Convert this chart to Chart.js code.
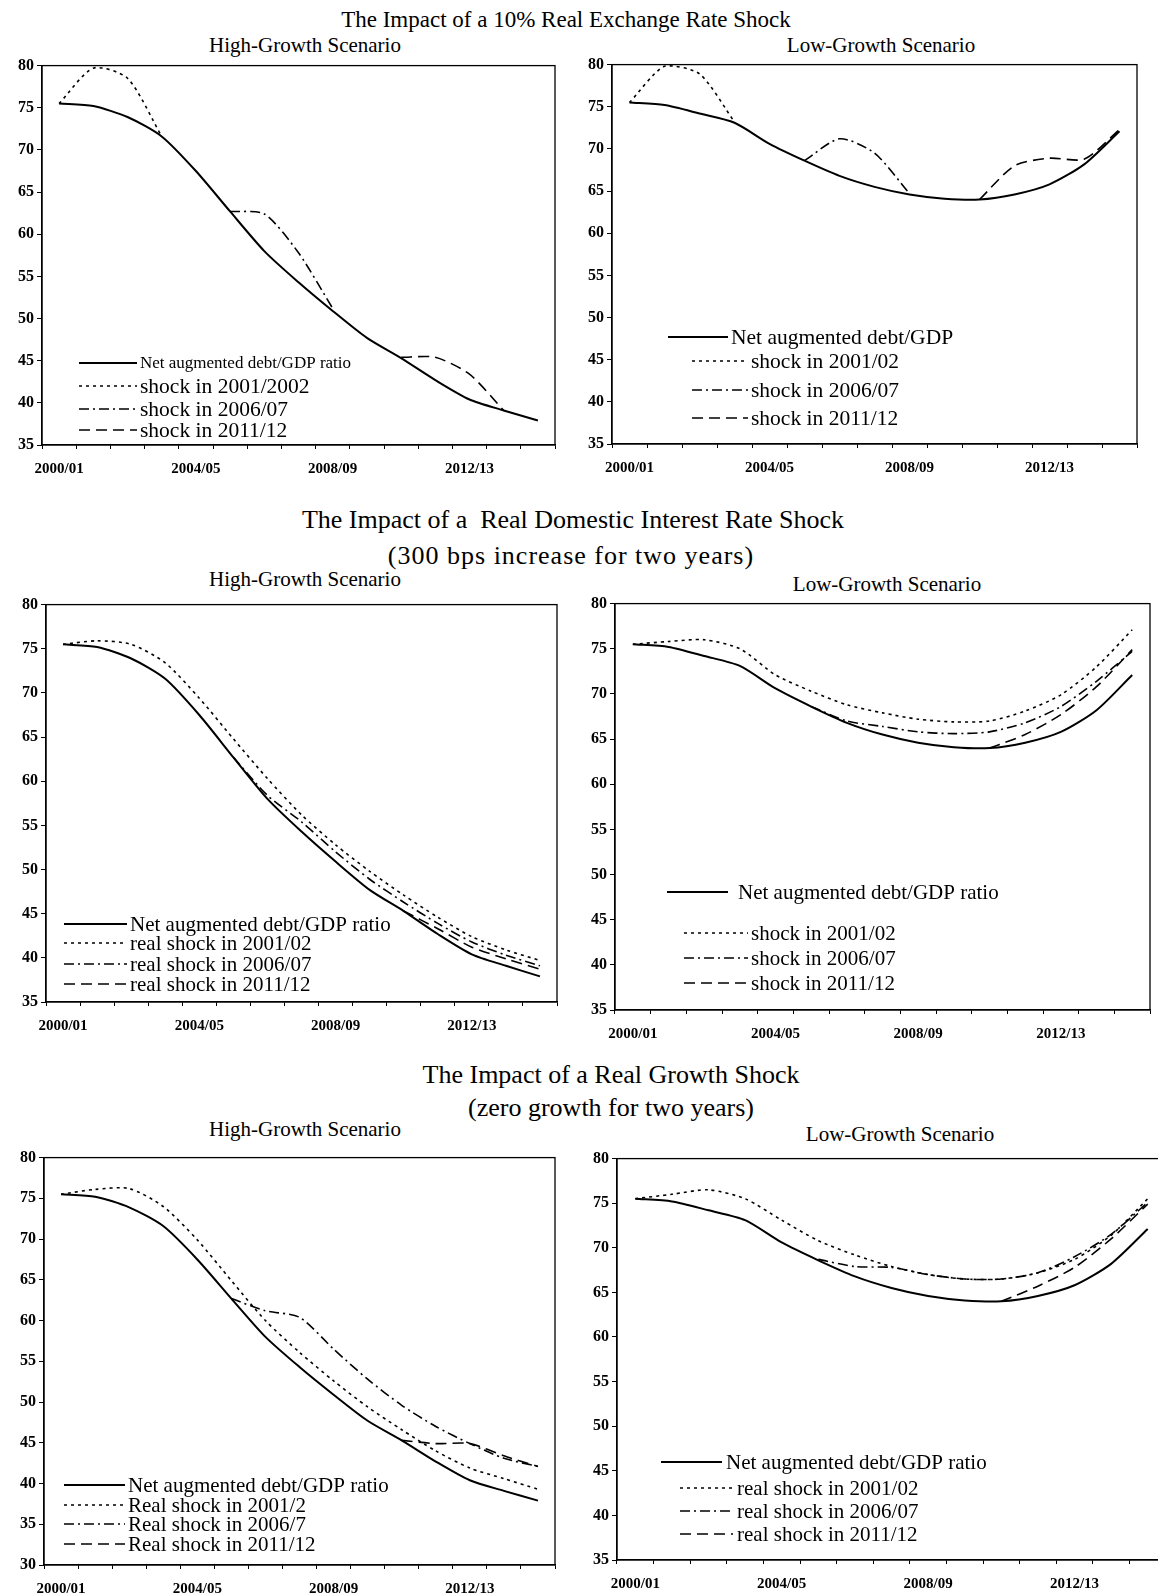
<!DOCTYPE html>
<html>
<head>
<meta charset="utf-8">
<script src="https://cdn.jsdelivr.net/npm/chart.js@4.4.1/dist/chart.umd.min.js"></script>
<style>
  html, body { margin: 0; padding: 0; background: #fff; overflow: hidden; }
  body { width: 1158px; height: 1595px; position: relative; font-family: "Liberation Serif", "Times New Roman", serif; color: #000; }
  .t { position: absolute; transform: translateX(-50%); white-space: pre; line-height: 1; }
  canvas { position: absolute; }
</style>
</head>
<body>

<div class="t" style="left:566px; top:8px; font-size:23px;">The Impact of a 10% Real Exchange Rate Shock</div>
<div class="t" style="left:305px; top:35px; font-size:21px;">High-Growth Scenario</div>
<div class="t" style="left:881px; top:35px; font-size:21px;">Low-Growth Scenario</div>

<div class="t" style="left:573px; top:507px; font-size:26px;">The Impact of a  Real Domestic Interest Rate Shock</div>
<div class="t" style="left:571px; top:543px; font-size:26px; letter-spacing:1px;">(300 bps increase for two years)</div>
<div class="t" style="left:305px; top:569px; font-size:21px;">High-Growth Scenario</div>
<div class="t" style="left:887px; top:574px; font-size:21px;">Low-Growth Scenario</div>

<div class="t" style="left:611px; top:1062px; font-size:26px;">The Impact of a Real Growth Shock</div>
<div class="t" style="left:611px; top:1095px; font-size:26px;">(zero growth for two years)</div>
<div class="t" style="left:305px; top:1119px; font-size:21px;">High-Growth Scenario</div>
<div class="t" style="left:900px; top:1124px; font-size:21px;">Low-Growth Scenario</div>

<canvas id="c1"></canvas>
<canvas id="c2"></canvas>
<canvas id="c3"></canvas>
<canvas id="c4"></canvas>
<canvas id="c5"></canvas>
<canvas id="c6"></canvas>

<script>
// fiscal years on the x axis
const years = ['2000/01', '2001/02', '2002/03', '2003/04', '2004/05', '2005/06', '2006/07', '2007/08',
               '2008/09', '2009/10', '2010/11', '2011/12', '2012/13', '2013/14', '2014/15'];
const _ = null;

// baseline net augmented debt/GDP
const highBase = [75.5, 75.2, 73.9, 71.6, 67.5, 62.7, 58.0, 54.3, 50.9, 47.7, 45.3, 42.7, 40.4, 39.1, 37.9];
const lowBase  = [75.5, 75.2, 74.2, 73.1, 70.6, 68.6, 66.8, 65.5, 64.6, 64.1, 64.0, 64.6, 65.8, 68.2, 72.1];

// 10% real exchange rate shock
const fxHigh01 = [75.5, 79.7, 78.5, 71.6, _, _, _, _, _, _, _, _, _, _, _];
const fxHigh06 = [_, _, _, _, _, 62.7, 62.4, 57.8, 51.2, _, _, _, _, _, _];
const fxHigh11 = [_, _, _, _, _, _, _, _, _, _, 45.4, 45.4, 43.4, 39.1, _];
const fxLow01  = [75.5, 79.8, 78.9, 73.2, _, _, _, _, _, _, _, _, _, _, _];
const fxLow06  = [_, _, _, _, _, 68.6, 71.2, 69.5, 64.7, _, _, _, _, _, _];
const fxLow11  = [_, _, _, _, _, _, _, _, _, _, 64.0, 68.0, 68.9, 68.8, 72.3];

// real domestic interest rate shock
const irHigh01 = [75.5, 75.9, 75.5, 73.4, 69.4, 64.8, 60.3, 56.2, 52.8, 49.8, 47.1, 44.6, 42.4, 40.9, 39.7];
const irHigh06 = [_, _, _, _, _, 62.7, 58.4, 55.4, 52.0, 48.9, 46.3, 43.9, 41.8, 40.3, 39.1];
const irHigh11 = [_, _, _, _, _, _, _, _, _, _, 45.3, 43.3, 41.2, 39.9, 38.7];
const irLow01  = [75.5, 75.8, 76.0, 75.0, 72.1, 70.3, 68.8, 67.9, 67.2, 66.9, 67.0, 68.1, 69.9, 73.0, 77.1];
const irLow06  = [_, _, _, _, _, 68.6, 67.0, 66.4, 65.8, 65.6, 65.8, 66.8, 68.6, 71.4, 74.7];
const irLow11  = [_, _, _, _, _, _, _, _, _, _, 64.0, 65.5, 67.7, 70.8, 74.9];

// real growth shock
const grHigh01 = [75.5, 76.1, 76.2, 74.0, 69.9, 64.9, 60.0, 56.1, 52.6, 49.4, 46.6, 44.0, 41.9, 40.6, 39.3];
const grHigh06 = [_, _, _, _, _, 62.7, 61.2, 60.4, 56.5, 52.8, 49.6, 47.0, 44.9, 43.1, 42.1];
const grHigh11 = [_, _, _, _, _, _, _, _, _, _, 45.3, 44.9, 44.9, 43.4, 42.1];
const grLow01  = [75.5, 76.0, 76.5, 75.5, 73.1, 70.8, 69.2, 67.9, 67.0, 66.5, 66.5, 67.2, 68.7, 71.4, 75.5];
const grLow06  = [_, _, _, _, _, 68.7, 67.9, 67.8, 67.0, 66.5, 66.5, 67.2, 69.0, 71.5, 75.1];
const grLow11  = [_, _, _, _, _, _, _, _, _, _, 64.0, 65.7, 67.8, 71.0, 74.9];

const yTicks = [80, 75, 70, 65, 60, 55, 50, 45, 40, 35, 30];

const SERIF = '"Liberation Serif", "Times New Roman", serif';
const DOT = [3, 4];
const DASHDOT = [10, 4, 2, 4];
const DASH = [11, 6];

// frame around the plot area
const boxPlugin = {
    id: 'box',
    afterDraw(chart) {
        const a = chart.chartArea, ctx = chart.ctx;
        ctx.save();
        ctx.strokeStyle = '#000';
        ctx.lineWidth = 1.3;
        ctx.setLineDash([]);
        ctx.strokeRect(a.left, a.top, a.right - a.left, a.bottom - a.top);
        ctx.restore();
    }
};

// legend drawn inside the plot, line sample + label
const lineLegend = {
    id: 'lineLegend',
    afterDraw(chart, args, opts) {
        const ctx = chart.ctx;
        ctx.save();
        chart.data.datasets.forEach((ds, i) => {
            const r = opts.rows[i];
            const y = r.y - opts.oy, x1 = r.x1 - opts.ox, x2 = r.x2 - opts.ox;
            ctx.strokeStyle = '#000';
            ctx.lineWidth = ds.borderWidth;
            ctx.setLineDash(ds.borderDash || []);
            ctx.beginPath();
            ctx.moveTo(x1, y);
            ctx.lineTo(x2, y);
            ctx.stroke();
            ctx.setLineDash([]);
            ctx.fillStyle = '#000';
            ctx.font = r.size + 'px ' + SERIF;
            ctx.textBaseline = 'middle';
            ctx.fillText(ds.label, r.tx - opts.ox, y + 1);
        });
        ctx.restore();
    }
};

function makeChart(id, plot, yMin, labels, series, rows) {
    const canvas = document.getElementById(id);
    const ox = plot.L - 42, oy = plot.T - 10;
    const w = plot.R - plot.L + 50, h = plot.B - plot.T + 50;
    canvas.width = w; canvas.height = h;
    canvas.style.left = ox + 'px';
    canvas.style.top = oy + 'px';

    const dashes = [[], DOT, DASHDOT, DASH];
    const widths = [2, 1.6, 1.6, 1.6];
    const datasets = series.map((s, i) => ({
        label: labels[i],
        data: s,
        borderColor: '#000',
        borderWidth: widths[i],
        borderDash: dashes[i],
        pointRadius: 0,
        tension: 0.25,
        fill: false,
        spanGaps: false
    }));

    new Chart(canvas, {
        type: 'line',
        data: { labels: years, datasets: datasets },
        plugins: [boxPlugin, lineLegend],
        options: {
            responsive: false,
            animation: false,
            devicePixelRatio: 1,
            layout: { padding: { top: 10, right: 8, left: 0, bottom: 0 } },
            plugins: {
                legend: { display: false },
                tooltip: { enabled: false },
                lineLegend: { rows: rows, ox: ox, oy: oy }
            },
            scales: {
                x: {
                    type: 'category',
                    offset: true,
                    grid: { offset: true, drawOnChartArea: false, tickLength: 4, color: '#000', lineWidth: 1 },
                    border: { color: '#000', width: 1.3 },
                    ticks: {
                        autoSkip: false,
                        maxRotation: 0,
                        padding: 11,
                        color: '#000',
                        font: { family: SERIF, size: 15, weight: 'bold' },
                        callback: function (v, i) { return i % 4 === 0 ? this.getLabelForValue(v) : ''; }
                    },
                    afterFit: (s) => { s.height = 40; }
                },
                y: {
                    min: yMin,
                    max: 80,
                    grid: { drawOnChartArea: false, tickLength: 5, color: '#000' },
                    border: { color: '#000', width: 1.3 },
                    ticks: {
                        stepSize: 5,
                        padding: 3,
                        color: '#000',
                        font: { family: SERIF, size: 16, weight: 'bold' },
                        callback: (v) => yTicks.includes(v) ? String(v) : ''
                    },
                    afterFit: (s) => { s.width = 42; }
                }
            }
        }
    });
}

// exchange rate shock
makeChart('c1', { L: 42, R: 555, T: 63, B: 445 }, 35,
    ['Net augmented debt/GDP ratio', 'shock in 2001/2002', 'shock in 2006/07', 'shock in 2011/12'],
    [highBase, fxHigh01, fxHigh06, fxHigh11],
    [{ y: 363, x1: 79, x2: 137, tx: 140, size: 17 },
     { y: 386, x1: 79, x2: 137, tx: 140, size: 21.5 },
     { y: 409, x1: 79, x2: 137, tx: 140, size: 21.5 },
     { y: 430, x1: 79, x2: 137, tx: 140, size: 21.5 }]);

makeChart('c2', { L: 612, R: 1137, T: 62, B: 444 }, 35,
    ['Net augmented debt/GDP', 'shock in 2001/02', 'shock in 2006/07', 'shock in 2011/12'],
    [lowBase, fxLow01, fxLow06, fxLow11],
    [{ y: 337, x1: 668, x2: 728, tx: 731, size: 21.5 },
     { y: 361, x1: 692, x2: 748, tx: 751, size: 21.5 },
     { y: 390, x1: 692, x2: 748, tx: 751, size: 21.5 },
     { y: 418, x1: 692, x2: 748, tx: 751, size: 21.5 }]);

// interest rate shock
makeChart('c3', { L: 46, R: 557, T: 602, B: 1002 }, 35,
    ['Net augmented debt/GDP ratio', 'real shock in 2001/02', 'real shock in 2006/07', 'real shock in 2011/12'],
    [highBase, irHigh01, irHigh06, irHigh11],
    [{ y: 924, x1: 64, x2: 127, tx: 130, size: 21 },
     { y: 943, x1: 64, x2: 127, tx: 130, size: 21 },
     { y: 964, x1: 64, x2: 127, tx: 130, size: 21 },
     { y: 984, x1: 64, x2: 127, tx: 130, size: 21 }]);

makeChart('c4', { L: 615, R: 1150, T: 601, B: 1010 }, 35,
    ['Net augmented debt/GDP ratio', 'shock in 2001/02', 'shock in 2006/07', 'shock in 2011/12'],
    [lowBase, irLow01, irLow06, irLow11],
    [{ y: 892, x1: 667, x2: 728, tx: 738, size: 21 },
     { y: 933, x1: 684, x2: 748, tx: 751, size: 21 },
     { y: 958, x1: 684, x2: 748, tx: 751, size: 21 },
     { y: 983, x1: 684, x2: 748, tx: 751, size: 21 }]);

// growth shock
makeChart('c5', { L: 44, R: 555, T: 1155, B: 1565 }, 30,
    ['Net augmented debt/GDP ratio', 'Real shock in 2001/2', 'Real shock in 2006/7', 'Real shock in 2011/12'],
    [highBase, grHigh01, grHigh06, grHigh11],
    [{ y: 1485, x1: 64, x2: 125, tx: 128, size: 21 },
     { y: 1505, x1: 64, x2: 125, tx: 128, size: 21 },
     { y: 1524, x1: 64, x2: 125, tx: 128, size: 21 },
     { y: 1544, x1: 64, x2: 125, tx: 128, size: 21 }]);

makeChart('c6', { L: 617, R: 1166, T: 1156, B: 1560 }, 35,
    ['Net augmented debt/GDP ratio', 'real shock in 2001/02', 'real shock in 2006/07', 'real shock in 2011/12'],
    [lowBase, grLow01, grLow06, grLow11],
    [{ y: 1462, x1: 661, x2: 722, tx: 726, size: 21 },
     { y: 1488, x1: 680, x2: 733, tx: 737, size: 21 },
     { y: 1511, x1: 680, x2: 733, tx: 737, size: 21 },
     { y: 1534, x1: 680, x2: 733, tx: 737, size: 21 }]);
</script>
</body>
</html>
